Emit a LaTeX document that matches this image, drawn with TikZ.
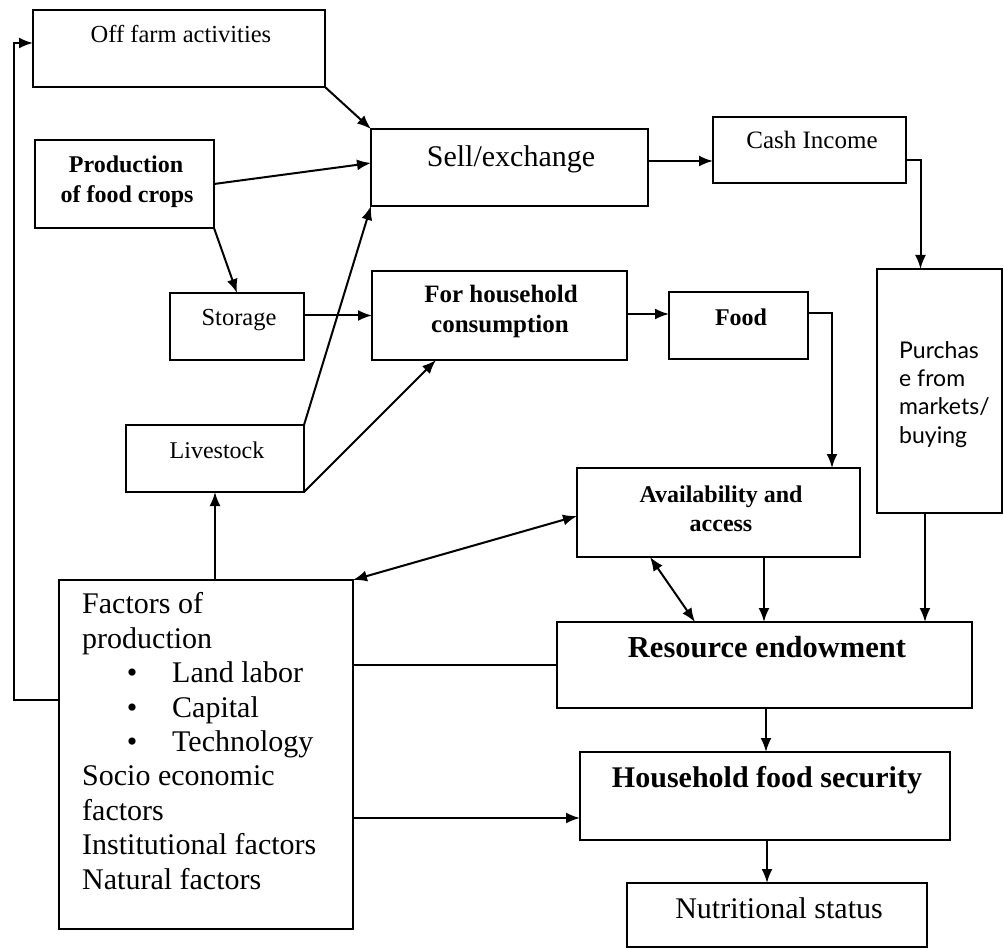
\documentclass[tikz,border=0pt]{standalone}
\usepackage{fontspec}
\setmainfont{Liberation Serif}
\newfontfamily\purfont{Lato}
\usetikzlibrary{arrows.meta,calc}
\newcommand\fsz[1]{\fontsize{#1}{#1}\selectfont}
\newcommand\mkbox[5]{\node[box, minimum width=#4pt-#2pt, minimum height=#5pt-#3pt] (#1) at ({(#2+#4)/2},{(#3+#5)/2}) {};}
\tikzset{
  box/.style={draw, line width=2.2pt, inner sep=0pt, outer sep=0pt},
  txt/.style={inner sep=0pt, text height=1.17em, text depth=0pt},
  arr/.style={line width=2pt, -{Latex[length=14pt,width=11pt]}},
  dbl/.style={line width=2pt, {Latex[length=14pt,width=11pt]}-{Latex[length=14pt,width=11pt]}},
  ln/.style={line width=2pt}
}
\begin{document}
\begin{tikzpicture}[x=1pt,y=-1pt]
\useasboundingbox[fill=white] (0,0) rectangle (1004,949);
% boxes
\mkbox{offfarm}{33}{10}{325}{87}
\mkbox{prod}{35}{140}{214}{228}
\mkbox{sell}{371}{129}{648}{206}
\mkbox{cash}{713}{117}{906}{183}
\mkbox{storage}{170}{293}{304}{360}
\mkbox{hh}{372}{271}{627}{360}
\mkbox{food}{669}{292}{808}{359}
\mkbox{livestock}{126}{425}{304}{492}
\mkbox{purch}{877}{269}{1002}{513}
\mkbox{avail}{577}{468}{860}{557}
\mkbox{res}{557}{622}{972}{708}
\mkbox{hfs}{580}{752}{950}{840}
\mkbox{nut}{627}{883}{927}{947}
\mkbox{fac}{59}{580}{353}{929}
% texts
\node[txt, font=\fsz{24.5}] (offt) at (181,37) {Off farm activities};
\node[txt, font=\fsz{24}\bfseries] (prodt1) at (126,167) {Production};
\node[txt, font=\fsz{24}\bfseries] (prodt2) at (127,197) {of food crops};
\node[txt, font=\fsz{30}] (sellt) at (511,161) {Sell/exchange};
\node[txt, font=\fsz{25}] (casht) at (812,143) {Cash Income};
\node[txt, font=\fsz{24.5}] (stort) at (239,320) {Storage};
\node[txt, font=\fsz{25}\bfseries] (hht1) at (501,297) {For household};
\node[txt, font=\fsz{25}\bfseries] (hht2) at (500,327) {consumption};
\node[txt, font=\fsz{24}\bfseries] (foodt) at (741,320) {Food};
\node[txt, font=\fsz{24}] (livt) at (217,453) {Livestock};
\node[txt, font=\fsz{24}\bfseries] (avt1) at (721,497) {Availability and};
\node[txt, font=\fsz{24}\bfseries] (avt2) at (721,526) {access};
\node[txt, font=\purfont\fsz{23}, anchor=west] (pt1) at (899,353) {Purchas};
\node[txt, font=\purfont\fsz{23}, anchor=west] (pt2) at (899,381) {e from};
\node[txt, font=\purfont\fsz{23}, anchor=west] (pt3) at (899,409) {markets/};
\node[txt, font=\purfont\fsz{23}, anchor=west] (pt4) at (899,438) {buying};
\node[txt, font=\fsz{30.5}\bfseries] (rest) at (767,652) {Resource endowment};
\node[txt, font=\fsz{30}\bfseries] (hfst) at (767,782) {Household food security};
\node[txt, font=\fsz{30}] (nutt) at (779,913) {Nutritional status};
% factors text
\node[txt, font=\fsz{30}, anchor=west] (f1) at (82,608) {Factors of};
\node[txt, font=\fsz{30}, anchor=west] (f2) at (82,642.4) {production};
\node[txt, font=\fsz{30}] (b1) at (132,676.8) {\textbullet};
\node[txt, font=\fsz{30}, anchor=west] (f3) at (172,676.8) {Land labor};
\node[txt, font=\fsz{30}] (b2) at (132,711.2) {\textbullet};
\node[txt, font=\fsz{30}, anchor=west] (f4) at (172,711.2) {Capital};
\node[txt, font=\fsz{30}] (b3) at (132,745.6) {\textbullet};
\node[txt, font=\fsz{30}, anchor=west] (f5) at (172,745.6) {Technology};
\node[txt, font=\fsz{30}, anchor=west] (f6) at (82,780) {Socio economic};
\node[txt, font=\fsz{30}, anchor=west] (f7) at (82,814.4) {factors};
\node[txt, font=\fsz{30}, anchor=west] (f8) at (82,848.8) {Institutional factors};
\node[txt, font=\fsz{30}, anchor=west] (f9) at (82,883.2) {Natural factors};
% connectors
\coordinate (lp) at (14,43);
\draw[arr] ([yshift=54.5pt]fac.west) -| (lp) -- (lp -| offfarm.west);
\draw[arr] (offfarm.south east) -- (sell.north west);
\draw[arr] (prod.east) -- ([yshift=4.5pt]sell.west);
\draw[arr] (prod.south east) -- (storage.north);
\draw[arr] ([yshift=11pt]storage.east) -- ([yshift=11pt]storage.east -| hh.west);
\draw[arr] (livestock.north east) -- (sell.south west);
\draw[arr] (livestock.south east) -- ([xshift=64pt]hh.south west);
\draw[arr] (livestock.south |- fac.north) -- (livestock.south);
\draw[dbl] (fac.north east) -- ([yshift=-3.5pt]avail.west);
\draw[arr] ([yshift=6.5pt]sell.east) -- ([yshift=6.5pt]sell.east -| cash.west);
\draw[arr] ([yshift=-10pt]cash.east) -| ([xshift=-19pt]purch.north);
\draw[arr] ([yshift=1.5pt]hh.east) -- ([yshift=1.5pt]hh.east -| food.west);
\draw[arr] ([yshift=12pt]food.east) -| ([xshift=113.5pt]avail.north);
\draw[arr] ([xshift=45.5pt]avail.south) -- ([xshift=45.5pt]avail.south |- res.north);
\draw[arr] ([xshift=-14.5pt]purch.south) -- ([xshift=-14.5pt]purch.south |- res.north);
\draw[dbl] ([xshift=-68.5pt]avail.south) -- ([xshift=-69.5pt]res.north);
\draw[ln] (res.west -| fac.east) -- (res.west);
\draw[arr] ([yshift=-22pt]hfs.west -| fac.east) -- ([yshift=-22pt]hfs.west);
\draw[arr] ([xshift=1.5pt]res.south) -- ([xshift=1.5pt]res.south |- hfs.north);
\draw[arr] ([xshift=2pt]hfs.south) -- ([xshift=2pt]hfs.south |- nut.north);
\end{tikzpicture}
\end{document}
